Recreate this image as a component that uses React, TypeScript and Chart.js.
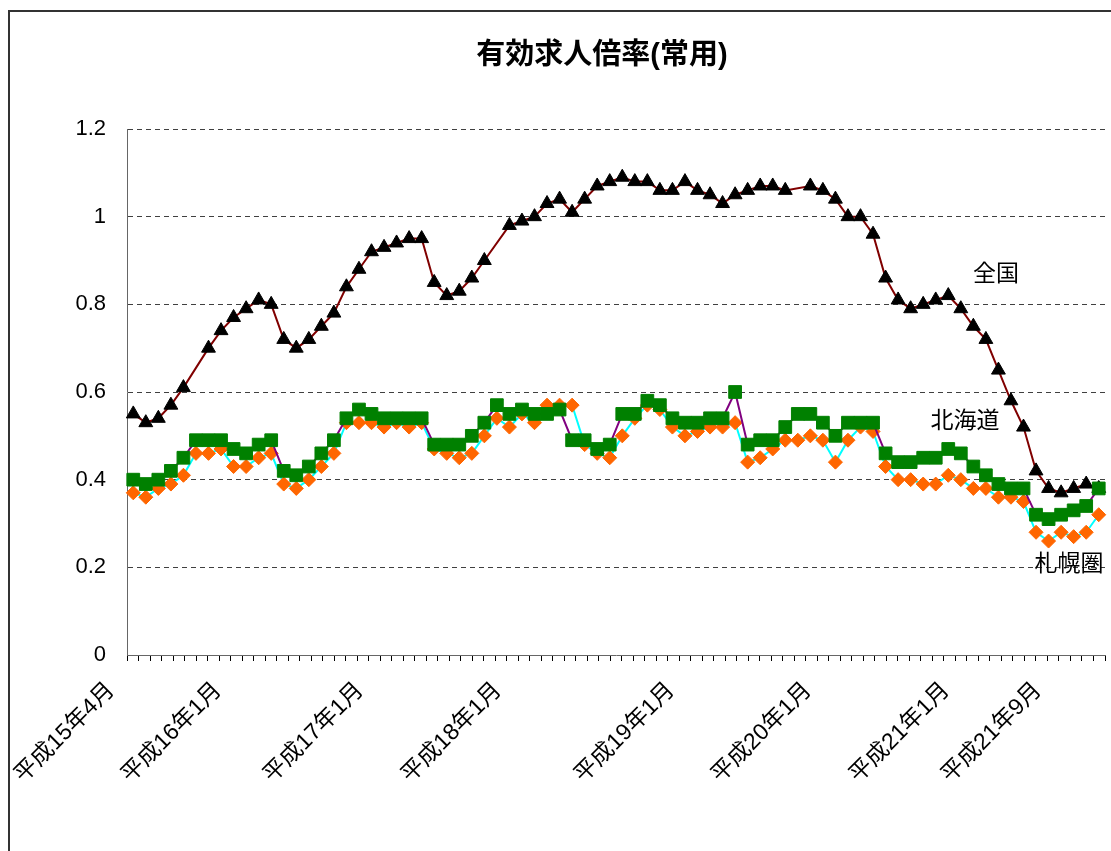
import React, { useEffect, useRef } from 'react';
import { Chart, registerables } from 'chart.js';

Chart.register(...registerables);

// ---------- data ----------
const TITLE = '有効求人倍率(常用)';

// monthly categories 平成15年4月 .. 平成21年9月 (78 months)
const START_YEAR = 15;
const START_MONTH = 4;
const MONTH_COUNT = 78;
const CATEGORIES: string[] = [];
{
  let y = START_YEAR;
  let m = START_MONTH;
  for (let i = 0; i < MONTH_COUNT; i++) {
    CATEGORIES.push(`平成${y}年${m}月`);
    m++;
    if (m > 12) {
      m = 1;
      y++;
    }
  }
}

const SERIES_NAMES = ['全国', '北海道', '札幌圏'];

// 全国 (gaps where no marker is drawn)
const NATIONAL: (number | null)[] = [
  0.55, 0.53, 0.54, 0.57, 0.61, null, 0.70, 0.74, 0.77, 0.79,
  0.81, 0.80, 0.72, 0.70, 0.72, 0.75, 0.78, 0.84, 0.88, 0.92,
  0.93, 0.94, 0.95, 0.95, 0.85, 0.82, 0.83, 0.86, 0.90, null,
  0.98, 0.99, 1.00, 1.03, 1.04, 1.01, 1.04, 1.07, 1.08, 1.09,
  1.08, 1.08, 1.06, 1.06, 1.08, 1.06, 1.05, 1.03, 1.05, 1.06,
  1.07, 1.07, 1.06, null, 1.07, 1.06, 1.04, 1.00, 1.00, 0.96,
  0.86, 0.81, 0.79, 0.80, 0.81, 0.82, 0.79, 0.75, 0.72, 0.65,
  0.58, 0.52, 0.42, 0.38, 0.37, 0.38, 0.39, 0.38,
];

// 北海道
const HOKKAIDO: number[] = [
  0.40, 0.39, 0.40, 0.42, 0.45, 0.49, 0.49, 0.49, 0.47, 0.46,
  0.48, 0.49, 0.42, 0.41, 0.43, 0.46, 0.49, 0.54, 0.56, 0.55,
  0.54, 0.54, 0.54, 0.54, 0.48, 0.48, 0.48, 0.50, 0.53, 0.57,
  0.55, 0.56, 0.55, 0.55, 0.56, 0.49, 0.49, 0.47, 0.48, 0.55,
  0.55, 0.58, 0.57, 0.54, 0.53, 0.53, 0.54, 0.54, 0.60, 0.48,
  0.49, 0.49, 0.52, 0.55, 0.55, 0.53, 0.50, 0.53, 0.53, 0.53,
  0.46, 0.44, 0.44, 0.45, 0.45, 0.47, 0.46, 0.43, 0.41, 0.39,
  0.38, 0.38, 0.32, 0.31, 0.32, 0.33, 0.34, 0.38,
];

// 札幌圏
const SAPPORO: number[] = [
  0.37, 0.36, 0.38, 0.39, 0.41, 0.46, 0.46, 0.47, 0.43, 0.43,
  0.45, 0.46, 0.39, 0.38, 0.40, 0.43, 0.46, 0.53, 0.53, 0.53,
  0.52, 0.53, 0.52, 0.53, 0.47, 0.46, 0.45, 0.46, 0.50, 0.54,
  0.52, 0.55, 0.53, 0.57, 0.57, 0.57, 0.48, 0.46, 0.45, 0.50,
  0.54, 0.57, 0.56, 0.52, 0.50, 0.51, 0.52, 0.52, 0.53, 0.44,
  0.45, 0.47, 0.49, 0.49, 0.50, 0.49, 0.44, 0.49, 0.52, 0.51,
  0.43, 0.40, 0.40, 0.39, 0.39, 0.41, 0.40, 0.38, 0.38, 0.36,
  0.36, 0.35, 0.28, 0.26, 0.28, 0.27, 0.28, 0.32,
];

const X_TICK_LABELS = [
  '平成15年4月', '平成16年1月', '平成17年1月', '平成18年1月',
  '平成19年1月', '平成20年1月', '平成21年1月', '平成21年9月',
];

const Y_MIN = 0;
const Y_MAX = 1.2;
const Y_STEP = 0.2;

// ---------- layout (positions / styles) ----------
const W = 1111;
const H = 851;
const AXIS_SLOTS = 85; // tick-mark slots along the category axis
const LABEL_SLOT_POS = [0.78, 10.08, 22.42, 34.42, 49.45, 61.36, 73.35, 81.35];
const LABEL_OFFSET = -25;
const FONT = "'Liberation Sans', 'Noto Sans CJK JP', sans-serif";

const ANNOTATIONS = [
  { text: SERIES_NAMES[0], x: 996, y: 275 },
  { text: SERIES_NAMES[1], x: 965, y: 422 },
  { text: SERIES_NAMES[2], x: 1069, y: 565 },
];

const labelMap = new Map<number, string>();
LABEL_SLOT_POS.forEach((p, i) => labelMap.set(p, X_TICK_LABELS[i]));

const decorPlugin = {
  id: 'decor',
  beforeDraw(chart: any) {
    const { ctx } = chart;
    ctx.save();
    ctx.fillStyle = '#ffffff';
    ctx.fillRect(0, 0, chart.width, chart.height);
    ctx.fillStyle = '#333333';
    ctx.fillRect(8, 10, 2, chart.height - 10);
    ctx.fillRect(8, 10, chart.width - 8, 2);
    ctx.restore();
  },
  afterDraw(chart: any) {
    const { ctx } = chart;
    ctx.save();
    ctx.fillStyle = '#000';
    ctx.textAlign = 'center';
    ctx.textBaseline = 'middle';
    ctx.font = `bold 29px ${FONT}`;
    ctx.fillText(TITLE, 602, 56);
    ctx.font = `23px ${FONT}`;
    ANNOTATIONS.forEach((a) => ctx.fillText(a.text, a.x, a.y));
    ctx.restore();
  },
};

export default function App() {
  const ref = useRef<HTMLCanvasElement | null>(null);

  useEffect(() => {
    if (!ref.current) return;
    const gapColor = (i: number) => (i < 40 ? '#7a4a14' : '#202020');
    const chart = new Chart(ref.current, {
      type: 'line',
      data: {
        labels: CATEGORIES,
        datasets: [
          {
            label: SERIES_NAMES[1],
            data: HOKKAIDO,
            borderColor: '#800080',
            borderWidth: 2,
            pointStyle: 'rect',
            pointRadius: 9,
            pointBackgroundColor: '#008000',
            pointBorderColor: '#008000',
            pointBorderWidth: 1,
            xAxisID: 'x',
            yAxisID: 'y',
          },
          {
            label: SERIES_NAMES[2],
            data: SAPPORO,
            borderColor: '#00ffff',
            borderWidth: 2,
            pointStyle: 'rectRot',
            pointRadius: 7,
            pointBackgroundColor: '#ff6600',
            pointBorderColor: '#ff6600',
            pointBorderWidth: 1,
            xAxisID: 'x',
            yAxisID: 'y',
          },
          {
            label: SERIES_NAMES[0],
            data: NATIONAL,
            borderColor: '#800000',
            borderWidth: 2,
            spanGaps: true,
            segment: {
              borderColor: (ctx: any) =>
                ctx.p1DataIndex - ctx.p0DataIndex > 1 ? gapColor(ctx.p0DataIndex) : '#800000',
              borderWidth: (ctx: any) => (ctx.p1DataIndex - ctx.p0DataIndex > 1 ? 1.5 : 2),
            },
            pointStyle: 'triangle',
            pointRadius: 8,
            pointBackgroundColor: '#000',
            pointBorderColor: '#000',
            pointBorderWidth: 1,
            xAxisID: 'x',
            yAxisID: 'y',
          },
        ],
      },
      options: {
        responsive: false,
        animation: false,
        devicePixelRatio: 1,
        layout: { autoPadding: false, padding: { top: 129, right: 6, left: 0, bottom: 0 } },
        plugins: {
          legend: { display: false },
          title: { display: false },
          tooltip: { enabled: false },
        },
        elements: { line: { tension: 0 } },
        scales: {
          x: {
            type: 'category',
            display: false,
            offset: true,
          },
          xt: {
            type: 'linear',
            position: 'bottom',
            min: 0,
            max: AXIS_SLOTS,
            afterBuildTicks: (scale: any) => {
              const ticks: { value: number }[] = [];
              for (let k = 0; k <= AXIS_SLOTS; k++) ticks.push({ value: k });
              LABEL_SLOT_POS.forEach((p) => ticks.push({ value: p }));
              ticks.sort((a, b) => a.value - b.value);
              scale.ticks = ticks;
            },
            afterFit: (scale: any) => {
              scale.height = H - 655;
              scale.paddingLeft = 0;
              scale.paddingRight = 0;
            },
            ticks: {
              autoSkip: false,
              maxRotation: 45,
              minRotation: 45,
              padding: 16,
              labelOffset: LABEL_OFFSET,
              color: '#000',
              font: { family: FONT, size: 23 },
              callback: (value: any) => labelMap.get(value as number) ?? '',
            },
            grid: {
              drawOnChartArea: false,
              drawTicks: true,
              tickLength: 6,
              tickWidth: 1,
              tickColor: (ctx: any) =>
                ctx.tick && labelMap.has(ctx.tick.value) ? 'rgba(0,0,0,0)' : '#000',
            },
            border: { display: true, color: '#666', width: 1 },
          },
          y: {
            type: 'linear',
            position: 'left',
            min: Y_MIN,
            max: Y_MAX,
            afterFit: (scale: any) => {
              scale.width = 127;
              scale.paddingTop = 0;
              scale.paddingBottom = 0;
            },
            ticks: {
              stepSize: Y_STEP,
              padding: 21,
              color: '#000',
              font: { family: FONT, size: 22 },
              callback: (value: any) => String(Number(Number(value).toFixed(1))),
            },
            grid: {
              drawTicks: false,
              color: (ctx: any) => (ctx.tick && ctx.tick.value === 0 ? 'rgba(0,0,0,0)' : '#404040'),
              lineWidth: 1,
            },
            border: { display: true, color: '#666', width: 1, dash: [5, 4] },
          },
        },
      },
      plugins: [decorPlugin],
    } as any);
    return () => chart.destroy();
  }, []);

  return (
    <div style={{ position: 'fixed', left: 0, top: 0, width: W, height: H }}>
      <canvas ref={ref} width={W} height={H} style={{ display: 'block', width: W, height: H }} />
    </div>
  );
}
